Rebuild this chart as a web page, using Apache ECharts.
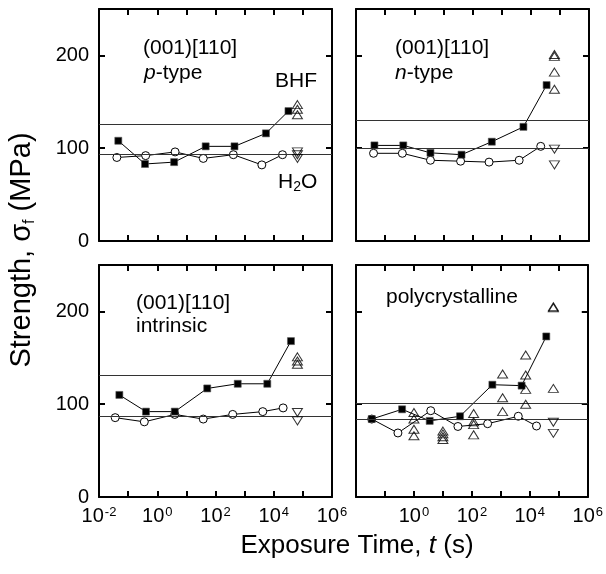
<!DOCTYPE html>
<html><head><meta charset="utf-8">
<script src="https://cdn.jsdelivr.net/npm/echarts@6/dist/echarts.min.js"></script>
<style>html,body{margin:0;padding:0;background:#fff}#c{width:606px;height:574px}</style>
</head><body><div id="c"></div>
<script>
// ---- data (t in s, strength in MPa) ----
const xTickExponents = [-2, 0, 2, 4, 6];
const yTicks = [0, 100, 200];

// (001)[110] p-type
const pBHF_t = [0.046, 0.38, 3.8, 46, 450, 5400, 32000];
const pBHF_s = [108, 83, 85, 102, 102, 116, 140];
const pH2O_t = [0.041, 0.40, 4.1, 38, 410, 3900, 20000];
const pH2O_s = [90, 92, 96, 89, 93, 82, 93];
const pUp_t = [65000, 65000, 65000];
const pUp_s = [147, 142, 136];
const pDown_t = [65000, 65000, 65000];
const pDown_s = [96, 93, 89];
const pRef = [126, 94];

// (001)[110] n-type
const nBHF_t = [0.043, 0.42, 3.6, 42, 460, 5600, 35000];
const nBHF_s = [103, 103, 95, 93, 107, 123, 168];
const nH2O_t = [0.040, 0.39, 3.6, 39, 370, 4000, 22000];
const nH2O_s = [94.5, 94.5, 87, 86, 85, 87, 102];
const nUp_t = [65000, 65000, 65000, 65000];
const nUp_s = [201, 199, 182, 163.5];
const nDown_t = [65000, 65000];
const nDown_s = [99, 82];
const nRef = [130, 99.5];

// (001)[110] intrinsic
const iBHF_t = [0.05, 0.41, 4, 52, 580, 6000, 39000];
const iBHF_s = [110, 92, 92, 117, 122, 122, 168];
const iH2O_t = [0.036, 0.36, 4, 38, 390, 4200, 21000];
const iH2O_s = [85.5, 81, 89, 84, 89, 92, 96];
const iUp_t = [65000, 65000, 65000];
const iUp_s = [151, 146.5, 143];
const iDown_t = [65000, 65000];
const iDown_s = [91, 82];
const iRef = [131, 86.5];

// polycrystalline
const cBHF_t = [0.035, 0.39, 3.5, 39, 510, 5200, 37000];
const cBHF_s = [84, 94.5, 82, 87, 121, 120, 173];
const cH2O_t = [0.035, 0.28, 3.8, 33, 350, 4000, 17000];
const cH2O_s = [84, 69, 93, 76, 79, 87, 76.5];
const cUp_t = [1, 1, 1, 1, 10, 10, 10, 10, 115, 115, 115, 115, 1150, 1150, 1150, 7200, 7200, 7200, 7200, 65000, 65000, 65000];
const cUp_s = [91, 84, 73, 66, 71, 68, 65, 62, 90, 81, 78, 67, 132.5, 107, 92, 153, 131.5, 116, 100, 205, 204, 117];
const cDown_t = [65000, 65000];
const cDown_s = [80.5, 68.6];
const cRef = [100.5, 83.3];

// ---- layout ----
const FONT = '"Liberation Sans", Arial, sans-serif';
const grids = [
  {left: 99, top: 9, width: 233, height: 232},
  {left: 356, top: 9, width: 233, height: 232},
  {left: 99, top: 265, width: 233, height: 232},
  {left: 356, top: 265, width: 233, height: 232}
];
const panels = [
  {bt: pBHF_t, bs: pBHF_s, ht: pH2O_t, hs: pH2O_s, ut: pUp_t, us: pUp_s, dt: pDown_t, ds: pDown_s, ref: pRef},
  {bt: nBHF_t, bs: nBHF_s, ht: nH2O_t, hs: nH2O_s, ut: nUp_t, us: nUp_s, dt: nDown_t, ds: nDown_s, ref: nRef},
  {bt: iBHF_t, bs: iBHF_s, ht: iH2O_t, hs: iH2O_s, ut: iUp_t, us: iUp_s, dt: iDown_t, ds: iDown_s, ref: iRef},
  {bt: cBHF_t, bs: cBHF_s, ht: cH2O_t, hs: cH2O_s, ut: cUp_t, us: cUp_s, dt: cDown_t, ds: cDown_s, ref: cRef}
];

const zip = (a, b) => a.map((v, i) => [v, b[i]]);
const xAxes = [], yAxes = [], series = [];
const mkLine = () => ({show: true, onZero: false, lineStyle: {color: '#000', width: 2}});
const mkTick = () => ({show: true, inside: true, length: 6, lineStyle: {color: '#000', width: 2}});

grids.forEach((g, gi) => {
  const bottomRow = gi >= 2, leftCol = gi % 2 === 0;
  ['bottom', 'top'].forEach(pos => {
    xAxes.push({gridIndex: gi, type: 'log', logBase: 10, min: 0.01, max: 1e6, interval: 1,
      position: pos, splitLine: {show: false}, axisLine: mkLine(), axisTick: mkTick(),
      axisLabel: {show: pos === 'bottom' && bottomRow, margin: 9, color: '#000',
        fontFamily: FONT, fontSize: 20,
        formatter: v => {
          const e = Math.round(Math.log10(v));
          if (!xTickExponents.includes(e)) return '';
          if (!leftCol && e === -2) return '';
          return '10{s|' + e + '}';
        },
        rich: {s: {fontSize: 13, fontFamily: FONT, verticalAlign: 'top', color: '#000', padding: [0, 0, 6, 1]}}
      }});
  });
  ['left', 'right'].forEach(pos => {
    yAxes.push({gridIndex: gi, type: 'value', min: 0, max: 250, interval: 100, position: pos,
      splitLine: {show: false}, axisLine: mkLine(), axisTick: mkTick(),
      axisLabel: {show: pos === 'left' && leftCol, showMaxLabel: false, margin: 10, color: '#000',
        fontFamily: FONT, fontSize: 20, formatter: v => yTicks.includes(v) ? String(v) : ''}
    });
  });
  const xi = gi * 2, yi = gi * 2;
  const P = panels[gi];
  series.push({type: 'line', xAxisIndex: xi, yAxisIndex: yi, data: P.ref.map(v => [1e6, v]),
    symbol: 'none', lineStyle: {opacity: 0}, silent: true,
    markLine: {silent: true, symbol: 'none', label: {show: false}, animation: false,
      lineStyle: {color: '#333', width: 1, type: 'solid'},
      data: P.ref.map(v => ({yAxis: v}))}});
  series.push({type: 'line', xAxisIndex: xi, yAxisIndex: yi, data: zip(P.ht, P.hs),
    symbol: 'circle', symbolSize: 8, lineStyle: {color: '#000', width: 1},
    itemStyle: {color: '#fff', borderColor: '#000', borderWidth: 1}, z: 3});
  series.push({type: 'line', xAxisIndex: xi, yAxisIndex: yi, data: zip(P.bt, P.bs),
    symbol: 'rect', symbolSize: 7, lineStyle: {color: '#000', width: 1},
    itemStyle: {color: '#000', borderColor: '#555', borderWidth: 0.6}, z: 4});
  series.push({type: 'scatter', xAxisIndex: xi, yAxisIndex: yi, data: zip(P.ut, P.us),
    symbol: 'triangle', symbolSize: [10, 8],
    itemStyle: {color: 'rgba(255,255,255,0)', borderColor: '#000', borderWidth: 1}, z: 5});
  series.push({type: 'scatter', xAxisIndex: xi, yAxisIndex: yi, data: zip(P.dt, P.ds),
    symbol: 'triangle', symbolRotate: 180, symbolSize: [10, 8],
    itemStyle: {color: 'rgba(255,255,255,0)', borderColor: '#000', borderWidth: 1}, z: 5});
});

const txt = (x, y, text) => ({type: 'text', x, y, z: 10,
  style: {text, fontFamily: FONT, fontSize: 21, fill: '#000',
    verticalAlign: 'middle', align: 'left',
    rich: {i: {fontStyle: 'italic', fontFamily: FONT, fontSize: 21},
           sub: {fontFamily: FONT, fontSize: 14, verticalAlign: 'bottom', padding: [10, 0, 0, 0]}}}});

const graphic = [
  txt(143, 48, '(001)[110]'),
  txt(144, 73, '{i|p}-type'),
  txt(275, 81, 'BHF'),
  txt(278, 182, 'H{sub|2}O'),
  txt(395, 48, '(001)[110]'),
  txt(395, 73, '{i|n}-type'),
  txt(136, 303, '(001)[110]'),
  txt(136, 326, 'intrinsic'),
  txt(386, 297, 'polycrystalline'),
  {type: 'text', x: 357, y: 546, z: 10,
    style: {text: 'Exposure Time, {i|t} (s)', fontFamily: FONT, fontSize: 26, fill: '#000',
      align: 'center', verticalAlign: 'middle',
      rich: {i: {fontStyle: 'italic', fontFamily: FONT, fontSize: 26}}}},
  {type: 'text', x: 22, y: 250, z: 10, rotation: Math.PI / 2,
    style: {text: 'Strength, σ{sub|f} (MPa)', fontFamily: FONT, fontSize: 29, fill: '#000',
      align: 'center', verticalAlign: 'middle',
      rich: {sub: {fontFamily: FONT, fontSize: 16, verticalAlign: 'bottom', padding: [15, 0, 0, 0]}}}}
];

const chart = echarts.init(document.getElementById('c'), null, {renderer: 'canvas'});
chart.setOption({
  animation: false,
  backgroundColor: '#fff',
  grid: grids.map(g => Object.assign({containLabel: false}, g)),
  xAxis: xAxes,
  yAxis: yAxes,
  series,
  graphic
});
</script></body></html>
